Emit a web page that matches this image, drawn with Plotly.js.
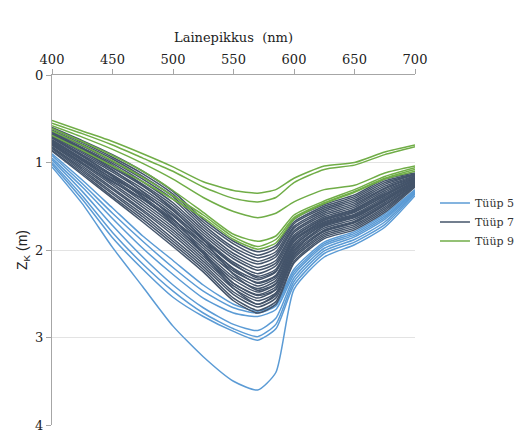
<!DOCTYPE html>
<html>
<head>
<meta charset="utf-8">
<script src="https://cdn.plot.ly/plotly-3.0.1.min.js"></script>
<style>html,body{margin:0;padding:0;background:#fff;}#chart{width:514px;height:432px;}</style>
</head>
<body>
<div id="chart"></div>
<script>
// Wavelengths (nm) at which each curve was read
const wavelengths = [400,425,450,475,500,525,550,570,585,600,625,650,675,700];

// Tüüp 5 (blue)
const type5 = [
  [1.05,1.47,1.97,2.42,2.87,3.22,3.50,3.60,3.40,2.45,2.08,1.94,1.74,1.38],
  [1.02,1.42,1.86,2.22,2.54,2.76,2.93,3.03,2.90,2.40,2.04,1.91,1.71,1.36],
  [1.00,1.38,1.80,2.16,2.47,2.72,2.90,2.99,2.85,2.36,2.01,1.88,1.68,1.35],
  [0.97,1.33,1.72,2.08,2.40,2.66,2.85,2.92,2.78,2.32,1.98,1.85,1.65,1.34],
  [0.95,1.28,1.64,1.98,2.28,2.55,2.72,2.76,2.68,2.28,1.95,1.83,1.63,1.33],
  [0.92,1.24,1.58,1.90,2.20,2.47,2.66,2.72,2.64,2.25,1.93,1.81,1.61,1.32],
  [0.90,1.20,1.52,1.84,2.12,2.40,2.62,2.70,2.62,2.22,1.91,1.79,1.59,1.31]
];

// Tüüp 7 (dark slate)
const type7 = [
  [0.60,0.75,0.91,1.10,1.33,1.65,1.90,2.02,1.95,1.65,1.48,1.37,1.19,1.12],
  [0.61,0.77,0.94,1.13,1.36,1.68,1.93,2.06,1.98,1.68,1.50,1.39,1.21,1.13],
  [0.63,0.79,0.96,1.16,1.39,1.71,1.97,2.09,2.02,1.70,1.52,1.41,1.23,1.14],
  [0.64,0.81,0.99,1.19,1.42,1.74,2.00,2.13,2.05,1.73,1.54,1.43,1.25,1.14],
  [0.65,0.83,1.01,1.22,1.46,1.77,2.04,2.16,2.08,1.75,1.56,1.45,1.27,1.15],
  [0.67,0.85,1.04,1.25,1.49,1.80,2.07,2.20,2.12,1.78,1.58,1.47,1.29,1.16],
  [0.68,0.87,1.06,1.27,1.52,1.83,2.10,2.23,2.15,1.80,1.60,1.49,1.30,1.17],
  [0.69,0.89,1.09,1.30,1.55,1.86,2.14,2.27,2.18,1.83,1.62,1.51,1.32,1.18],
  [0.71,0.91,1.11,1.33,1.58,1.89,2.17,2.30,2.22,1.85,1.64,1.53,1.34,1.18],
  [0.72,0.93,1.14,1.36,1.61,1.92,2.21,2.34,2.25,1.88,1.66,1.55,1.36,1.19],
  [0.74,0.95,1.16,1.39,1.65,1.95,2.24,2.37,2.29,1.90,1.68,1.57,1.38,1.20],
  [0.75,0.96,1.19,1.42,1.68,1.98,2.27,2.41,2.32,1.93,1.69,1.59,1.40,1.21],
  [0.76,0.98,1.21,1.45,1.71,2.01,2.31,2.44,2.35,1.95,1.71,1.61,1.42,1.22],
  [0.78,1.00,1.24,1.48,1.74,2.04,2.34,2.48,2.39,1.98,1.73,1.63,1.44,1.22],
  [0.79,1.02,1.26,1.51,1.77,2.07,2.38,2.51,2.42,2.00,1.75,1.65,1.46,1.23],
  [0.80,1.04,1.29,1.54,1.80,2.10,2.41,2.55,2.45,2.03,1.77,1.67,1.48,1.24],
  [0.82,1.06,1.31,1.56,1.83,2.13,2.44,2.58,2.49,2.05,1.79,1.69,1.49,1.25],
  [0.83,1.08,1.34,1.59,1.87,2.16,2.48,2.62,2.52,2.08,1.81,1.71,1.51,1.26],
  [0.84,1.10,1.36,1.62,1.90,2.19,2.51,2.65,2.55,2.10,1.83,1.73,1.53,1.26],
  [0.86,1.12,1.39,1.65,1.93,2.22,2.55,2.69,2.59,2.13,1.85,1.75,1.55,1.27],
  [0.87,1.14,1.41,1.68,1.96,2.25,2.58,2.72,2.62,2.15,1.87,1.77,1.57,1.28],
  [0.68,0.87,1.08,1.34,1.64,2.02,2.38,2.52,2.45,2.02,1.72,1.62,1.43,1.22],
  [0.80,1.01,1.22,1.42,1.66,1.92,2.22,2.38,2.30,1.90,1.66,1.56,1.38,1.19],
  [0.70,0.92,1.15,1.40,1.70,2.04,2.44,2.62,2.50,2.06,1.78,1.68,1.48,1.24],
  [0.77,0.97,1.18,1.37,1.60,1.88,2.16,2.32,2.24,1.86,1.64,1.54,1.36,1.19],
  [0.66,0.84,1.03,1.26,1.54,1.88,2.28,2.46,2.38,1.96,1.70,1.60,1.42,1.21]
];

// Tüüp 9 (green)
const type9 = [
  [0.52,0.64,0.76,0.90,1.05,1.22,1.32,1.35,1.31,1.18,1.04,1.00,0.88,0.80],
  [0.55,0.67,0.80,0.95,1.10,1.28,1.41,1.45,1.40,1.23,1.08,1.03,0.91,0.82],
  [0.58,0.71,0.85,1.01,1.19,1.40,1.56,1.63,1.58,1.45,1.31,1.26,1.12,1.04],
  [0.61,0.76,0.92,1.10,1.32,1.57,1.82,1.90,1.84,1.60,1.44,1.31,1.16,1.06],
  [0.64,0.80,0.98,1.17,1.38,1.60,1.85,1.96,1.88,1.63,1.46,1.33,1.18,1.08],
  [0.69,0.86,1.04,1.22,1.42,1.63,1.88,1.99,1.92,1.65,1.47,1.34,1.19,1.10]
];

const groups = [
  {name: 'Tüüp 5', data: type5, color: '#5b9bd5'},
  {name: 'Tüüp 7', data: type7, color: '#44546a'},
  {name: 'Tüüp 9', data: type9, color: '#70ad47'}
];

const traces = [];
groups.forEach(g => {
  g.data.forEach((ys, i) => {
    traces.push({
      type: 'scatter', mode: 'lines',
      x: wavelengths, y: ys,
      name: g.name, legendgroup: g.name,
      showlegend: i === 0,
      line: {color: g.color, width: 1.5, shape: 'spline', smoothing: 0.6},
      hoverinfo: 'skip'
    });
  });
});

const serif = 'DejaVu Serif';
const layout = {
  width: 514, height: 432,
  margin: {l: 52, r: 99, t: 75, b: 7, autoexpand: false},
  paper_bgcolor: '#fff', plot_bgcolor: '#fff',
  font: {family: serif, size: 13, color: '#222'},
  showlegend: true,
  legend: {
    x: 1.055, xanchor: 'left', y: 0.58, yanchor: 'middle',
    font: {family: serif, size: 11, color: '#333'},
    itemwidth: 30, tracegroupgap: 0, bgcolor: 'rgba(0,0,0,0)'
  },
  xaxis: {
    side: 'top', range: [400, 700], autorange: false,
    tickvals: [400,450,500,550,600,650,700],
    ticks: 'outside', ticklen: 5, tickcolor: '#a6a6a6',
    showline: true, linecolor: '#a6a6a6', linewidth: 1,
    showgrid: false, zeroline: false,
    tickfont: {family: serif, size: 13, color: '#222'},
    title: {text: 'Lainepikkus\u00a0 (nm)', font: {family: serif, size: 13, color: '#222'}, standoff: 6}
  },
  yaxis: {
    range: [4, 0], autorange: false,
    tickvals: [0,1,2,3,4],
    ticks: 'outside', ticklen: 5, tickcolor: '#a6a6a6',
    showline: true, linecolor: '#a6a6a6', linewidth: 1,
    showgrid: true, gridcolor: '#e3e3e3', gridwidth: 1,
    zeroline: false,
    ticklabeloverflow: 'allow',
    tickfont: {family: serif, size: 13, color: '#222'},
    title: {text: 'Z<sub>K</sub> (m)', font: {family: 'Liberation Sans', size: 14, color: '#222'}, standoff: 4}
  }
};

Plotly.newPlot('chart', traces, layout, {displayModeBar: false, staticPlot: true});
</script>
</body>
</html>
